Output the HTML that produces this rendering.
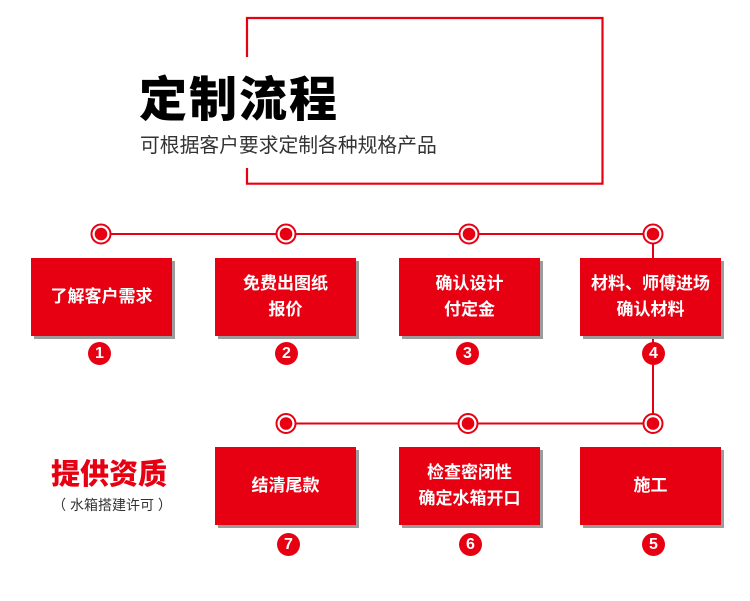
<!DOCTYPE html>
<html>
<head>
<meta charset="utf-8">
<style>
html,body{margin:0;padding:0;background:#fff;}
body{width:750px;height:601px;position:relative;overflow:hidden;font-family:"Liberation Sans","Noto Sans CJK SC",sans-serif;}
svg{position:absolute;left:0;top:0;}
.t{position:absolute;white-space:nowrap;}
.box{position:absolute;width:141px;height:78px;background:#e60012;box-shadow:3px 3px 0 #9c9c9c;color:#fff;font-weight:bold;font-size:17px;line-height:26px;display:flex;align-items:center;justify-content:center;text-align:center;font-family:"Liberation Sans","Noto Sans CJK SC",sans-serif;}
.num{position:absolute;width:23px;height:23px;border-radius:50%;background:#e60012;color:#fff;font-weight:bold;font-size:16px;line-height:23px;text-align:center;font-family:"Liberation Sans",sans-serif;}
</style>
</head>
<body>
<svg width="750" height="601" viewBox="0 0 750 601">
  <path d="M247,57 V18 H602.5 V183.7 H247 V168" fill="none" stroke="#e60012" stroke-width="2.2"/>
  <line x1="101" y1="234" x2="653" y2="234" stroke="#e60012" stroke-width="2"/>
  <line x1="653" y1="234" x2="653" y2="424" stroke="#e60012" stroke-width="2"/>
  <line x1="286" y1="423.5" x2="653" y2="423.5" stroke="#e60012" stroke-width="2"/>
  <g fill="#fff" stroke="#e60012" stroke-width="2">
    <circle cx="101" cy="234" r="9.5"/>
    <circle cx="286" cy="234" r="9.5"/>
    <circle cx="469" cy="234" r="9.5"/>
    <circle cx="653" cy="234" r="9.5"/>
    <circle cx="286" cy="423.5" r="9.5"/>
    <circle cx="468" cy="423.5" r="9.5"/>
    <circle cx="653" cy="423.5" r="9.5"/>
  </g>
  <g fill="#e60012">
    <circle cx="101" cy="234" r="6.3"/>
    <circle cx="286" cy="234" r="6.3"/>
    <circle cx="469" cy="234" r="6.3"/>
    <circle cx="653" cy="234" r="6.3"/>
    <circle cx="286" cy="423.5" r="6.3"/>
    <circle cx="468" cy="423.5" r="6.3"/>
    <circle cx="653" cy="423.5" r="6.3"/>
  </g>
</svg>

<div class="t" style="left:139px;top:77px;font-size:48px;line-height:48px;font-weight:900;color:#000;font-family:'Liberation Sans','Noto Sans CJK SC',sans-serif;letter-spacing:2px;">定制流程</div>
<div class="t" style="left:140px;top:136px;font-size:19.8px;line-height:20px;color:#333;font-family:'Liberation Sans','Noto Sans CJK SC',sans-serif;">可根据客户要求定制各种规格产品</div>

<div class="box" style="left:31px;top:258px;">了解客户需求</div>
<div class="box" style="left:215px;top:258px;">免费出图纸<br>报价</div>
<div class="box" style="left:399px;top:258px;">确认设计<br>付定金</div>
<div class="box" style="left:580px;top:258px;">材料、师傅进场<br>确认材料</div>

<div class="box" style="left:215px;top:447px;">结清尾款</div>
<div class="box" style="left:399px;top:447px;">检查密闭性<br>确定水箱开口</div>
<div class="box" style="left:580px;top:447px;">施工</div>

<div class="num" style="left:88px;top:342px;">1</div>
<div class="num" style="left:275px;top:342px;">2</div>
<div class="num" style="left:456px;top:342px;">3</div>
<div class="num" style="left:642px;top:342px;">4</div>
<div class="num" style="left:277px;top:533px;">7</div>
<div class="num" style="left:459px;top:533px;">6</div>
<div class="num" style="left:642px;top:533px;">5</div>

<div class="t" style="left:51px;top:460px;font-size:29px;line-height:30px;font-weight:900;color:#e60012;">提供资质</div>
<div class="t" style="left:52px;top:497px;width:120px;text-align:center;font-size:14px;line-height:16px;color:#333;">（ 水箱搭建许可 ）</div>
</body>
</html>
